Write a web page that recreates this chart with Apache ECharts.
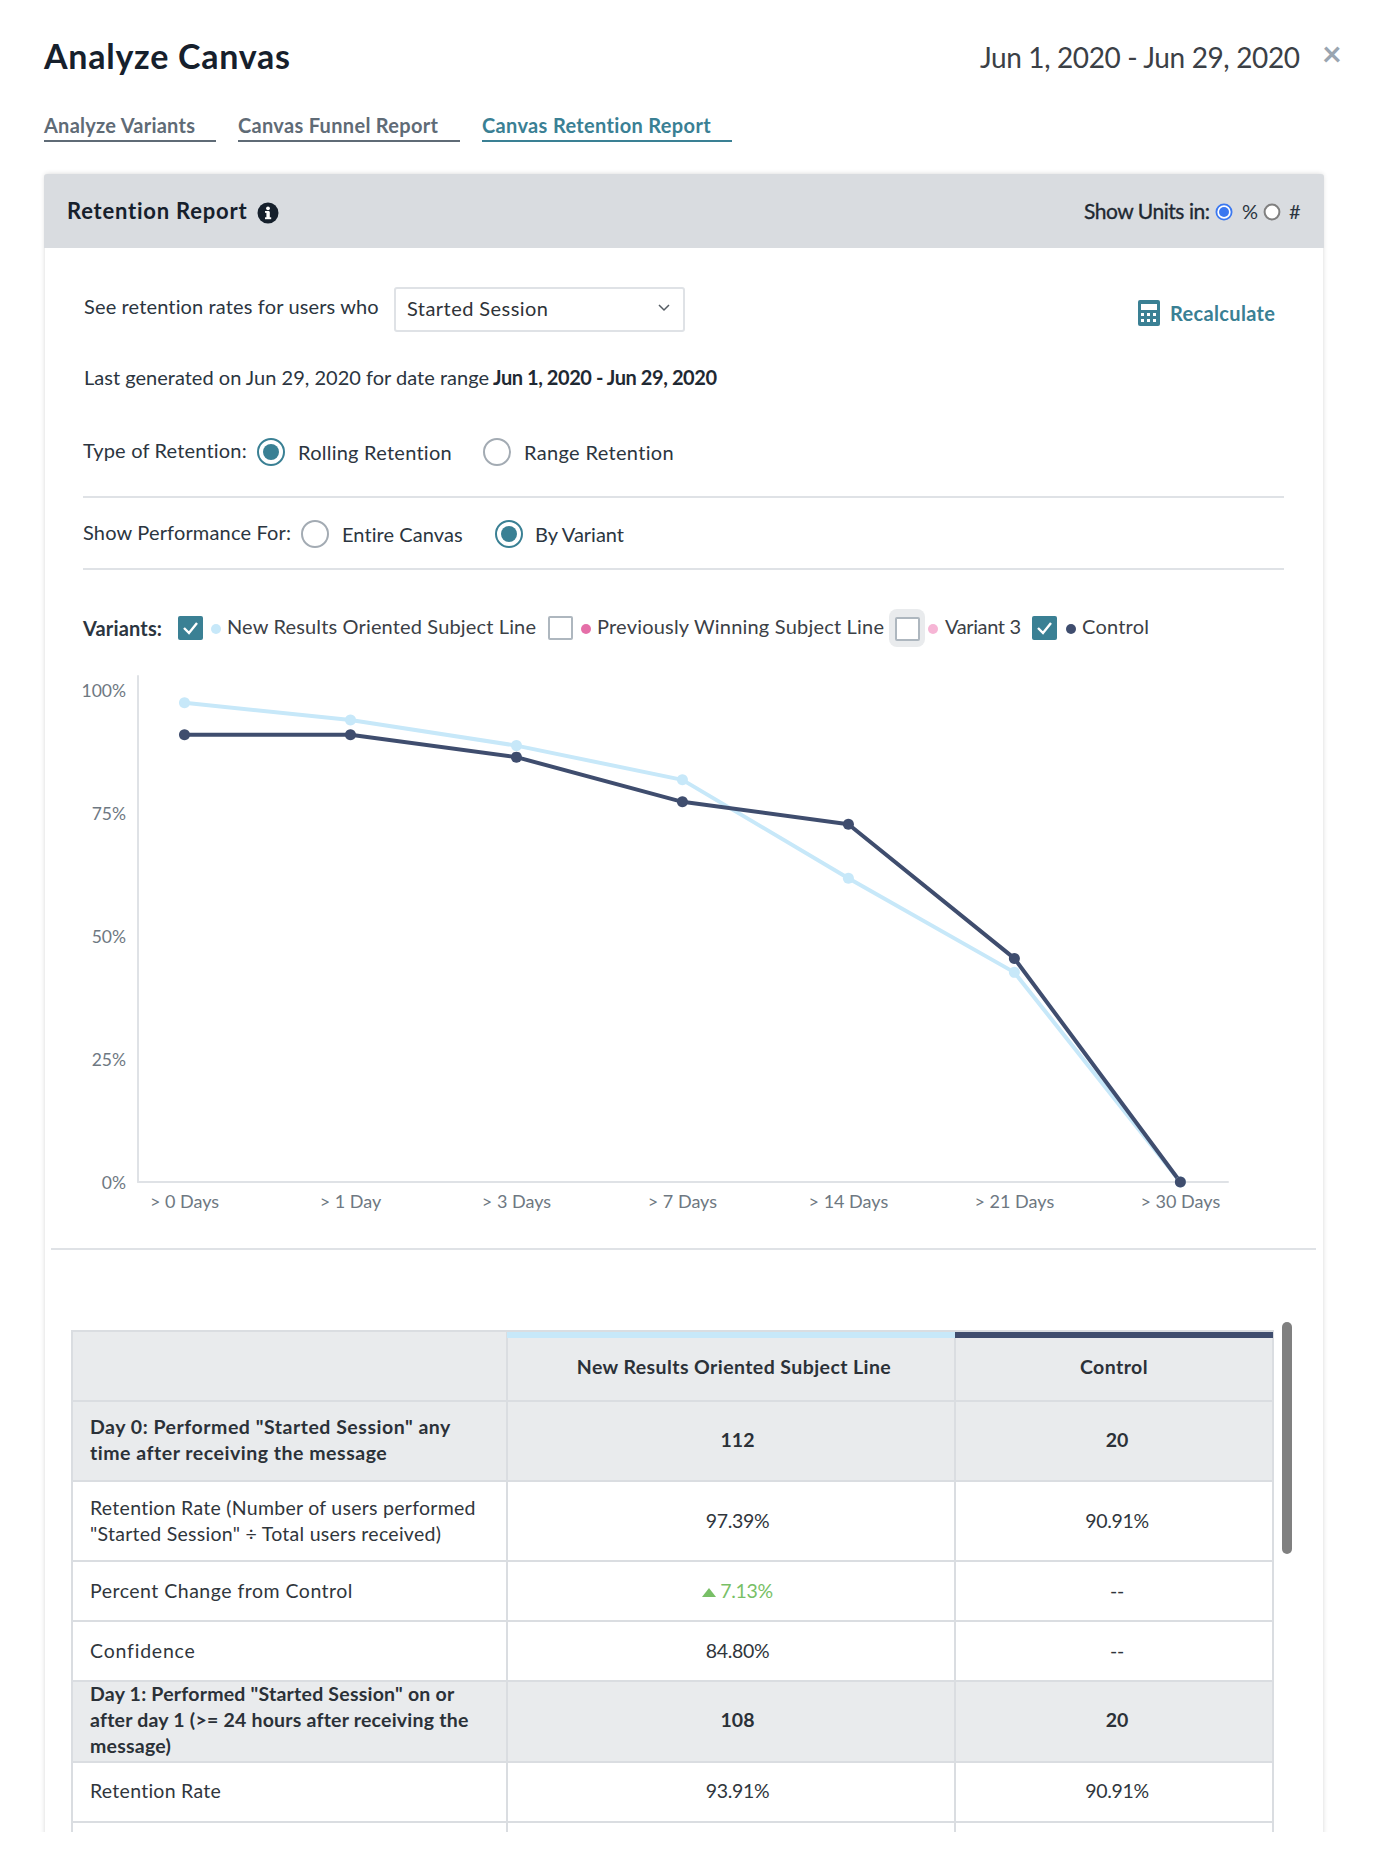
<!DOCTYPE html>
<html><head><meta charset="utf-8">
<script src="https://cdn.jsdelivr.net/npm/echarts@6/dist/echarts.min.js"></script>
<style>
html,body{margin:0;padding:0;background:#fff}
body{width:1379px;height:1855px;overflow:hidden;position:relative;font-family:Lato,sans-serif}
#page{position:absolute;left:0;top:0;width:1379px;height:1832px;overflow:hidden}
#page>*{position:absolute}
.t{white-space:nowrap;line-height:40px;height:40px}
.line{background:#dfe2e6;height:2px}
.radio{box-sizing:border-box;width:28px;height:28px;border-radius:50%;border:2px solid #a3abb3;background:#fff}
.radio.on{border-color:#3a8094}
.radio.on:after{content:"";position:absolute;left:4px;top:4px;width:16px;height:16px;border-radius:50%;background:#3a8094}
.box{box-sizing:border-box;width:25px;height:24px;border-radius:2px;border:2px solid #aeb7bf;background:#fff}
.box.on{border:0;background:#3a8094}
.dot{width:10px;height:10px;border-radius:50%}
table{border-collapse:collapse;table-layout:fixed;font-size:19.5px;color:#30363c;letter-spacing:.27px}
td{border:2px solid #dadde1;padding:0;text-align:center;line-height:26px;position:relative}
td:first-child{text-align:left;padding-left:17px}
td.v{letter-spacing:-.3px}
td.a{padding-left:13px}
td.b{padding-left:6px}
tr.head td{background:#e9ebed;font-weight:700;color:#2b3138;letter-spacing:.52px}
tr.head td.v{letter-spacing:0}
tr.r0 td.v{letter-spacing:.42px}
tr.r0 td.a{padding-left:6px}
tr.r0 td.b{padding-left:0;padding-right:0}
tr.r3 td:first-child{letter-spacing:.49px}
tr.r4 td:first-child{letter-spacing:.8px}
tr.r5 td:first-child{letter-spacing:.22px}
.in{position:relative;display:block}
.bar{position:absolute;left:-1px;right:-1px;top:0;height:6px}
.up{display:inline-block;width:0;height:0;border-left:7px solid transparent;border-right:7px solid transparent;border-bottom:9px solid #78bf66;margin-right:4px;vertical-align:1px}
</style></head>
<body>
<div id="page">
  <div id="panel" style="left:45px;top:174px;width:1278px;height:1700px;background:#fff;box-shadow:0 0 5px rgba(0,0,0,.16);border-radius:3px 3px 0 0"></div>
  <div style="left:44px;top:174px;width:1280px;height:74px;background:#d9dce0;border-radius:3px 3px 0 0"></div>
  <div style="left:44px;top:140px;width:172px;height:2px;background:#5f6b76"></div>
  <div style="left:238px;top:140px;width:222px;height:2px;background:#5f6b76"></div>
  <div style="left:482px;top:140px;width:250px;height:2px;background:#3a8094"></div>
  <svg style="left:257px;top:202px" width="22" height="22" viewBox="0 0 22 22"><circle cx="11" cy="11" r="10.5" fill="#16202c"/><rect x="9.4" y="9.5" width="3.4" height="6.6" fill="#fff"/><rect x="8" y="15.3" width="6.2" height="1.9" fill="#fff"/><rect x="8" y="9" width="4" height="1.8" fill="#fff"/><circle cx="11" cy="6.3" r="1.9" fill="#fff"/></svg>
  <svg style="left:1215px;top:203px" width="18" height="18"><circle cx="9" cy="9" r="7.6" fill="#fff" stroke="#3b78f0" stroke-width="1.8"/><circle cx="9" cy="9" r="5" fill="#3b78f0"/></svg>
  <svg style="left:1263px;top:203px" width="18" height="18"><circle cx="9" cy="9" r="7.4" fill="#fff" stroke="#808080" stroke-width="2"/></svg>
  <div style="left:394px;top:287px;width:291px;height:45px;box-sizing:border-box;border:2px solid #dfe2e6;border-radius:3px;background:#fff"></div>
  <svg style="left:657px;top:303px" width="14" height="10"><path d="M2 2 L7 7 L12 2" fill="none" stroke="#555c63" stroke-width="1.5"/></svg>
  <svg style="left:1138px;top:300px" width="22" height="26" viewBox="0 0 22 26"><rect width="22" height="26" rx="2" fill="#3a8094"/><rect x="3" y="4" width="16" height="6" fill="#fff"/><g fill="#fff"><rect x="3" y="13" width="3" height="3"/><rect x="9" y="13" width="3" height="3"/><rect x="15" y="13" width="3" height="3"/><rect x="3" y="19" width="3" height="3"/><rect x="9" y="19" width="3" height="3"/><rect x="15" y="19" width="3" height="3"/></g></svg>
  <div class="radio on" style="left:257px;top:438px"></div>
  <div class="radio" style="left:483px;top:438px"></div>
  <div class="line" style="left:83px;top:496px;width:1201px"></div>
  <div class="radio" style="left:301px;top:520px"></div>
  <div class="radio on" style="left:495px;top:520px"></div>
  <div class="line" style="left:83px;top:568px;width:1201px"></div>
  <div class="box on" style="left:178px;top:616px"><svg width="25" height="24"><path d="M6 12 L11 17 L19 7" fill="none" stroke="#fff" stroke-width="2.4"/></svg></div>
  <div class="dot" style="left:211px;top:624px;background:#c7e8f9"></div>
  <div class="box" style="left:548px;top:616px"></div>
  <div class="dot" style="left:581px;top:624px;background:#e56fa8"></div>
  <div style="left:889px;top:609px;width:36px;height:38px;border-radius:8px;background:#e9ebed"></div>
  <div class="box" style="left:895px;top:617px"></div>
  <div class="dot" style="left:928px;top:624px;background:#f6b5d5"></div>
  <div class="box on" style="left:1032px;top:616px"><svg width="25" height="24"><path d="M6 12 L11 17 L19 7" fill="none" stroke="#fff" stroke-width="2.4"/></svg></div>
  <div class="dot" style="left:1066px;top:624px;background:#3f4d6e"></div>
  <div id="chart" style="left:50px;top:650px;width:1230px;height:590px"></div>
  <div class="line" style="left:51px;top:1248px;width:1265px"></div>
  <table id="tbl" style="left:71px;top:1330px;width:1201px"><colgroup><col style="width:435px"><col style="width:448px"><col style="width:318px"></colgroup><tbody id="tb"></tbody></table>
  <div style="left:1282px;top:1322px;width:10px;height:232px;border-radius:5px;background:#808080"></div>
</div>
<script>
// ---- chart data ----
const dayLabels = ['> 0 Days','> 1 Day','> 3 Days','> 7 Days','> 14 Days','> 21 Days','> 30 Days'];
const newResults = [97.39, 93.91, 88.7, 81.74, 61.74, 42.61, 0];
const control = [90.91, 90.91, 86.36, 77.27, 72.73, 45.45, 0];
const yTicks = [0, 25, 50, 75, 100];
// ---- table data ----
const variantNames = ['New Results Oriented Subject Line', 'Control'];
const rowLabels = ['', 'Day 0: Performed "Started Session" any<br>time after receiving the message',
  'Retention Rate (Number of users performed<br>"Started Session" ÷ Total users received)',
  'Percent Change from Control', 'Confidence',
  'Day 1: Performed "Started Session" on or<br>after day 1 (>= 24 hours after receiving the<br>message)',
  'Retention Rate', ''];
const colA = [variantNames[0], '112', '97.39%', '7.13%', '84.80%', '108', '93.91%', ''];
const colB = [variantNames[1], '20', '90.91%', '--', '--', '20', '90.91%', ''];
const rowHeights = [70, 80, 80, 60, 60, 81, 60, 60];
const rowShifts = [1, -1, 0, 0, 0, -2, -1, 0];
const headRows = [0, 1, 5];

// ---- UI text: [text, x, right edge, baseline, size, weight, colour] ----
const labels = [
 ['Analyze Canvas',44,290,69,34,700,'#16202c'],
 ['Jun 1, 2020 - Jun 29, 2020',980,1300,68,28,400,'#3b4046'],
 ['×',1322,1338,66,34,700,'#9aa5b0'],
 ['Analyze Variants',44,195,133,20,700,'#5f6b76'],
 ['Canvas Funnel Report',238,438,133,20,700,'#5f6b76'],
 ['Canvas Retention Report',482,711,133,20,700,'#3a8094'],
 ['Retention Report',67,247,220,22,700,'#16202c'],
 ['Show Units in:',1084,1210,219,21,400,'#1f2933'],
 ['%',1242,1257,219,20,400,'#2b3540'],
 ['#',1289,1301,219,20,400,'#2b3540'],
 ['See retention rates for users who',84,379,314,20,400,'#2b3540'],
 ['Started Session',407,548,316,20,400,'#2f3338'],
 ['Recalculate',1170,1275,321,20,700,'#3a8094'],
 ['Last generated on Jun 29, 2020 for date range',84,489,385,20,400,'#2b3540'],
 ['Jun 1, 2020 - Jun 29, 2020',493,717,385,20,700,'#1f2933'],
 ['Type of Retention:',83,247,458,20,400,'#2b3540'],
 ['Rolling Retention',298,452,460,20,400,'#2b3540'],
 ['Range Retention',524,674,460,20,400,'#2b3540'],
 ['Show Performance For:',83,291,540,20,400,'#2b3540'],
 ['Entire Canvas',342,463,542,20,400,'#2b3540'],
 ['By Variant',535,624,542,20,400,'#2b3540'],
 ['Variants:',83,162,636,20,700,'#2b3540'],
 ['New Results Oriented Subject Line',227,536,634,20,400,'#3b4046'],
 ['Previously Winning Subject Line',597,884,634,20,400,'#3b4046'],
 ['Variant 3',945,1021,634,20,400,'#3b4046'],
 ['Control',1082,1149,634,20,400,'#3b4046']
];
const page = document.getElementById('page');
for (const [text,x,x2,base,size,weight,color] of labels){
  const d=document.createElement('div');d.className='t';d.textContent=text;
  d.style.cssText+=`left:${x}px;top:${base-20-0.387*size}px;font-size:${size}px;font-weight:${weight};color:${color}`;
  if(text==='Show Units in:')d.style.webkitTextStroke='.35px #1f2933';
  page.appendChild(d);
  const w=d.getBoundingClientRect().width;
  d.style.letterSpacing=((x2-x-w)/Math.max(1,text.length-1)).toFixed(3)+'px';
}
// ---- table ----
const tb=document.getElementById('tb');
rowLabels.forEach((lab,i)=>{
  const tr=document.createElement('tr');tr.style.height=rowHeights[i]+'px';
  tr.className=(headRows.includes(i)?'head ':'')+'r'+i;
  const a=i===3?'<span class="up"></span><span style="color:#78bf66">'+colA[i]+'</span>':colA[i];
  const wrap=s=>`<span class="in" style="top:${rowShifts[i]}px">${s}</span>`;
  tr.innerHTML=`<td>${wrap(lab)}</td><td class="v a">${i===0?'<div class="bar" style="background:#c7e8f9"></div>':''}${wrap(a)}</td><td class="v b">${i===0?'<div class="bar" style="background:#3f4d6e"></div>':''}${wrap(colB[i])}</td>`;
  tb.appendChild(tr);
});
// ---- chart ----
const chart=echarts.init(document.getElementById('chart'),null,{renderer:'svg'});
const mk=(name,vals,color)=>({name,type:'line',data:vals.map((v,i)=>[i,v]),smooth:false,symbol:'circle',symbolSize:11,
  lineStyle:{color,width:4},itemStyle:{color},animation:false});
chart.setOption({
  animation:false,
  grid:{left:88,top:26,width:1090,height:506,containLabel:false},
  xAxis:{type:'value',min:-0.28,max:6.287,splitLine:{show:false},
    axisLine:{show:true,onZero:false,lineStyle:{color:'#dfe2e6',width:2}},
    axisTick:{show:false},
    axisLabel:{customValues:dayLabels.map((_,i)=>i),formatter:v=>dayLabels[v],color:'#6e7882',fontSize:18,fontFamily:'Lato',margin:10}},
  yAxis:{type:'value',min:0,max:102.85,splitLine:{show:false},
    axisLine:{show:true,onZero:false,lineStyle:{color:'#dfe2e6',width:2}},
    axisTick:{show:false},
    axisLabel:{customValues:yTicks,formatter:v=>v+'%',color:'#6e7882',fontSize:17.5,fontFamily:'Lato',margin:12,padding:[0,0,2,0]}},
  series:[mk(variantNames[0],newResults,'#c7e8f9'),mk(variantNames[1],control,'#3f4d6e')]
});
</script>
</body></html>
